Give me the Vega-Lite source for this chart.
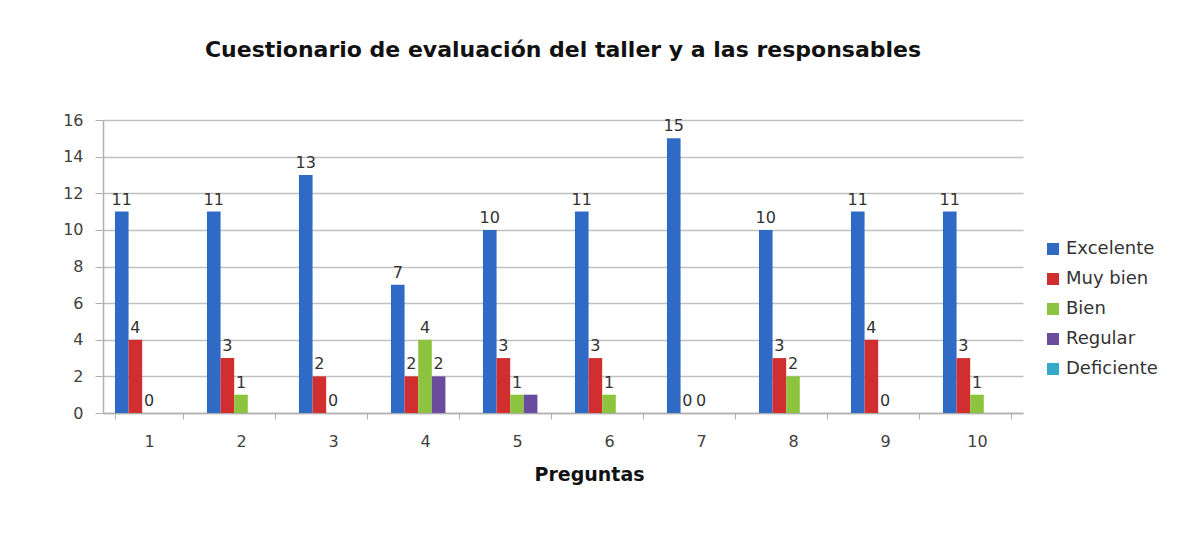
{
  "$schema": "https://vega.github.io/schema/vega-lite/v6.json",
  "autosize": "none",
  "width": 920,
  "height": 293,
  "padding": {"left": 103, "top": 120, "right": 162, "bottom": 120},
  "background": "white",
  "title": {
    "text": "Cuestionario de evaluación del taller y a las responsables",
    "font": "DejaVu Sans",
    "fontSize": 22,
    "fontWeight": "bold",
    "color": "#111111",
    "anchor": "middle",
    "offset": 50
  },
  "data": {
    "values": [
      {"pregunta": "1", "nivel": "Excelente", "valor": 11, "rotulo": 1},
      {"pregunta": "1", "nivel": "Muy bien", "valor": 4, "rotulo": 1},
      {"pregunta": "1", "nivel": "Bien", "valor": 0, "rotulo": 1},
      {"pregunta": "1", "nivel": "Regular", "valor": 0, "rotulo": 0},
      {"pregunta": "1", "nivel": "Deficiente", "valor": 0, "rotulo": 0},
      {"pregunta": "2", "nivel": "Excelente", "valor": 11, "rotulo": 1},
      {"pregunta": "2", "nivel": "Muy bien", "valor": 3, "rotulo": 1},
      {"pregunta": "2", "nivel": "Bien", "valor": 1, "rotulo": 1},
      {"pregunta": "2", "nivel": "Regular", "valor": 0, "rotulo": 0},
      {"pregunta": "2", "nivel": "Deficiente", "valor": 0, "rotulo": 0},
      {"pregunta": "3", "nivel": "Excelente", "valor": 13, "rotulo": 1},
      {"pregunta": "3", "nivel": "Muy bien", "valor": 2, "rotulo": 1},
      {"pregunta": "3", "nivel": "Bien", "valor": 0, "rotulo": 1},
      {"pregunta": "3", "nivel": "Regular", "valor": 0, "rotulo": 0},
      {"pregunta": "3", "nivel": "Deficiente", "valor": 0, "rotulo": 0},
      {"pregunta": "4", "nivel": "Excelente", "valor": 7, "rotulo": 1},
      {"pregunta": "4", "nivel": "Muy bien", "valor": 2, "rotulo": 1},
      {"pregunta": "4", "nivel": "Bien", "valor": 4, "rotulo": 1},
      {"pregunta": "4", "nivel": "Regular", "valor": 2, "rotulo": 1},
      {"pregunta": "4", "nivel": "Deficiente", "valor": 0, "rotulo": 0},
      {"pregunta": "5", "nivel": "Excelente", "valor": 10, "rotulo": 1},
      {"pregunta": "5", "nivel": "Muy bien", "valor": 3, "rotulo": 1},
      {"pregunta": "5", "nivel": "Bien", "valor": 1, "rotulo": 1},
      {"pregunta": "5", "nivel": "Regular", "valor": 1, "rotulo": 0},
      {"pregunta": "5", "nivel": "Deficiente", "valor": 0, "rotulo": 0},
      {"pregunta": "6", "nivel": "Excelente", "valor": 11, "rotulo": 1},
      {"pregunta": "6", "nivel": "Muy bien", "valor": 3, "rotulo": 1},
      {"pregunta": "6", "nivel": "Bien", "valor": 1, "rotulo": 1},
      {"pregunta": "6", "nivel": "Regular", "valor": 0, "rotulo": 0},
      {"pregunta": "6", "nivel": "Deficiente", "valor": 0, "rotulo": 0},
      {"pregunta": "7", "nivel": "Excelente", "valor": 15, "rotulo": 1},
      {"pregunta": "7", "nivel": "Muy bien", "valor": 0, "rotulo": 1},
      {"pregunta": "7", "nivel": "Bien", "valor": 0, "rotulo": 1},
      {"pregunta": "7", "nivel": "Regular", "valor": 0, "rotulo": 0},
      {"pregunta": "7", "nivel": "Deficiente", "valor": 0, "rotulo": 0},
      {"pregunta": "8", "nivel": "Excelente", "valor": 10, "rotulo": 1},
      {"pregunta": "8", "nivel": "Muy bien", "valor": 3, "rotulo": 1},
      {"pregunta": "8", "nivel": "Bien", "valor": 2, "rotulo": 1},
      {"pregunta": "8", "nivel": "Regular", "valor": 0, "rotulo": 0},
      {"pregunta": "8", "nivel": "Deficiente", "valor": 0, "rotulo": 0},
      {"pregunta": "9", "nivel": "Excelente", "valor": 11, "rotulo": 1},
      {"pregunta": "9", "nivel": "Muy bien", "valor": 4, "rotulo": 1},
      {"pregunta": "9", "nivel": "Bien", "valor": 0, "rotulo": 1},
      {"pregunta": "9", "nivel": "Regular", "valor": 0, "rotulo": 0},
      {"pregunta": "9", "nivel": "Deficiente", "valor": 0, "rotulo": 0},
      {"pregunta": "10", "nivel": "Excelente", "valor": 11, "rotulo": 1},
      {"pregunta": "10", "nivel": "Muy bien", "valor": 3, "rotulo": 1},
      {"pregunta": "10", "nivel": "Bien", "valor": 1, "rotulo": 1},
      {"pregunta": "10", "nivel": "Regular", "valor": 0, "rotulo": 0},
      {"pregunta": "10", "nivel": "Deficiente", "valor": 0, "rotulo": 0}
    ]
  },
  "encoding": {
    "x": {
      "field": "pregunta",
      "type": "ordinal",
      "sort": ["1", "2", "3", "4", "5", "6", "7", "8", "9", "10"],
      "scale": {"paddingInner": 0.26, "paddingOuter": 0.13},
      "axis": {
        "title": "Preguntas",
        "titleFont": "DejaVu Sans",
        "titleFontSize": 19,
        "titleFontWeight": "bold",
        "titleColor": "#111111",
        "titlePadding": 16,
        "titleX": 486,
        "labelAngle": 0,
        "labelFont": "DejaVu Sans",
        "labelFontSize": 16,
        "labelColor": "#404040",
        "labelPadding": 14,
        "tickBand": "extent",
        "tickSize": 6,
        "tickColor": "#b0b0b0",
        "domainColor": "#b0b0b0",
        "domainWidth": 1.5,
        "grid": false
      }
    },
    "xOffset": {
      "field": "nivel",
      "type": "nominal",
      "sort": ["Excelente", "Muy bien", "Bien", "Regular", "Deficiente"],
      "scale": {"paddingInner": 0, "paddingOuter": 0}
    },
    "y": {
      "field": "valor",
      "type": "quantitative",
      "scale": {"domain": [0, 16], "nice": false},
      "axis": {
        "title": null,
        "values": [0, 2, 4, 6, 8, 10, 12, 14, 16],
        "labelFont": "DejaVu Sans",
        "labelFontSize": 16,
        "labelColor": "#404040",
        "labelPadding": 12,
        "tickSize": 8,
        "tickColor": "#b0b0b0",
        "domainColor": "#b0b0b0",
        "domainWidth": 1.5,
        "gridColor": "#c0c0c0",
        "gridWidth": 1.5
      }
    }
  },
  "layer": [
    {
      "mark": {"type": "bar"},
      "encoding": {
        "color": {
          "field": "nivel",
          "type": "nominal",
          "sort": ["Excelente", "Muy bien", "Bien", "Regular", "Deficiente"],
          "scale": {
            "domain": ["Excelente", "Muy bien", "Bien", "Regular", "Deficiente"],
            "range": ["#2f6bc4", "#d12f2f", "#8dc43f", "#6a4c9f", "#35a9c9"]
          },
          "legend": {
            "title": null,
            "orient": "none",
            "legendX": 941,
            "legendY": 120,
            "symbolType": "square",
            "symbolSize": 144,
            "symbolStrokeWidth": 0,
            "labelFont": "DejaVu Sans",
            "labelFontSize": 18,
            "labelColor": "#333333",
            "labelOffset": 4,
            "rowPadding": 12
          }
        }
      }
    },
    {
      "transform": [{"filter": "datum.rotulo == 1"}],
      "mark": {
        "type": "text",
        "baseline": "alphabetic",
        "dy": -7,
        "font": "DejaVu Sans",
        "fontSize": 16,
        "color": "#333333"
      },
      "encoding": {
        "text": {"field": "valor", "type": "quantitative"}
      }
    }
  ],
  "config": {
    "view": {"stroke": null}
  }
}
